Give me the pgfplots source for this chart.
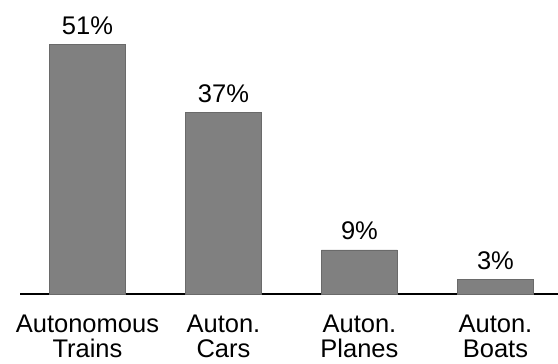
\documentclass[border=0pt]{standalone}
\usepackage{pgfplots}
\pgfplotsset{compat=1.18}
\usepackage{fontspec}
\setmainfont{Liberation Sans}
\definecolor{barfill}{HTML}{808080}
\definecolor{baredge}{HTML}{6A6A6A}
\begin{document}
\begin{tikzpicture}[x=1bp,y=1bp]
\begin{axis}[
  at={(0,0)}, anchor=south west,
  scale only axis,
  width=538bp, height=294bp,
  xmin=-0.496, xmax=3.46,
  ymin=0, ymax=60,
  axis x line=bottom,
  axis y line=none,
  x axis line style={line width=1.6bp, black, -},
  xtick={0,1,2,3},
  xticklabels={Autonomous\\Trains, Auton.\\Cars, Auton.\\Planes, Auton.\\Boats},
  major tick length=0pt,
  xticklabel style={align=center, font=\fontsize{25.5bp}{25bp}\selectfont, yshift=-17bp},
  ybar,
  bar width=76bp,
  /pgf/number format/assume math mode=true,
  nodes near coords={\pgfmathprintnumber{\pgfplotspointmeta}\%},
  nodes near coords style={font=\fontsize{25.5bp}{25bp}\selectfont, anchor=south, yshift=6bp},
  clip=false,
]
\addplot[fill=barfill, draw=baredge, line width=0.8bp] coordinates {(0,51) (1,37) (2,9) (3,3)};
\end{axis}
\pgfresetboundingbox
\path (-20bp,-70bp) rectangle (538bp,294bp);
\end{tikzpicture}
\end{document}
